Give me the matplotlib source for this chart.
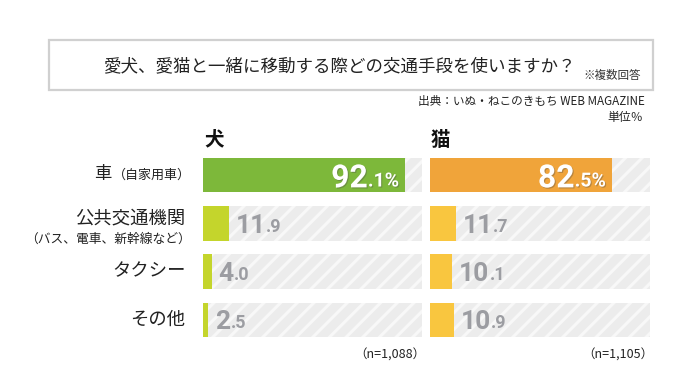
import matplotlib
matplotlib.use("Agg")
import matplotlib.pyplot as plt
import matplotlib.patheffects as pe
from matplotlib.patches import Rectangle

plt.rcParams['font.family'] = ['Noto Sans CJK JP', 'DejaVu Sans']
plt.rcParams['hatch.linewidth'] = 2.2

# ---- data ----
categories = ['車', '公共交通機関', 'タクシー', 'その他']
category_notes = ['（自家用車）', '（バス、電車、新幹線など）', '', '']
dog_values = [92.1, 11.9, 4.0, 2.5]
cat_values = [82.5, 11.7, 10.1, 10.9]
panel_titles = ['犬', '猫']
sample_sizes = ['（n=1,088）', '（n=1,105）']
title = '愛犬、愛猫と一緒に移動する際どの交通手段を使いますか？'
title_note = '※複数回答'
source = '出典：いぬ・ねこのきもち WEB MAGAZINE'
unit = '単位％'

dog_colors = ['#7db83a', '#c4d52c', '#c4d52c', '#c4d52c']
cat_colors = ['#f0a43a', '#f9c63f', '#f9c63f', '#f9c63f']

W, H = 700, 390
fig = plt.figure(figsize=(7.0, 3.9), dpi=100)
fig.patch.set_facecolor('white')

NUMFONT = ['Liberation Sans Narrow', 'Roboto', 'DejaVu Sans']
GRAY = '#9c9da2'


def fx(px):
    return px / W


def fy(py):
    return 1 - py / H


# title box
fig.patches.append(Rectangle((fx(49), fy(90)), fx(653) - fx(49), fy(40) - fy(90),
                             transform=fig.transFigure, fill=False,
                             edgecolor='#d0d0d0', linewidth=1.6))
fig.text(fx(103), fy(66), title, fontsize=12.6, va='center', ha='left', color='#222222')
fig.text(fx(641), fy(75), title_note, fontsize=8.3, va='center', ha='right', color='#333333')
fig.text(fx(645), fy(102), source, fontsize=8.4, va='center', ha='right', color='#222222')
fig.text(fx(643), fy(118), unit, fontsize=8.6, va='center', ha='right', color='#222222')

row_s = 48.3
top_px = 175 - row_s / 2
bot_px = top_px + row_s * 4
panels = [(203, 422, dog_values, dog_colors), (430, 650, cat_values, cat_colors)]
axes = []
for i, (x0, x1, vals, cols) in enumerate(panels):
    ax = fig.add_axes([fx(x0), fy(bot_px), fx(x1) - fx(x0), fy(top_px) - fy(bot_px)])
    ax.set_xlim(0, 100)
    ax.set_ylim(3.5, -0.5)
    ax.axis('off')
    y = list(range(len(categories)))
    ax.barh(y, [100] * len(y), height=0.72, color='#ececec', edgecolor='#f8f8f8',
            hatch='//', linewidth=0)
    ax.barh(y, vals, height=0.72, color=cols, linewidth=0)
    big, small = 19, 13
    d = 0.23
    for j, v in enumerate(vals):
        ip, dp = f'{v:.1f}'.split('.')
        if j == 0:
            bigsz, smallsz = 23, 14
            t_small = ax.annotate('.' + dp + '%', xy=(v, j), xytext=(-4, -bigsz * 0.36),
                                  textcoords='offset points', ha='right', va='baseline',
                                  fontsize=smallsz, fontweight='bold', color='white',
                                  family=NUMFONT,
                                  path_effects=[pe.withSimplePatchShadow(offset=(0.8, -0.8), alpha=0.35)])
            ax.annotate(ip, xy=(0, 0), xycoords=t_small,
                        xytext=(0, -d * (bigsz - smallsz)), textcoords='offset points',
                        ha='right', va='bottom', fontsize=bigsz, fontweight='bold',
                        color='white', family=NUMFONT,
                        path_effects=[pe.withSimplePatchShadow(offset=(0.8, -0.8), alpha=0.35)])
        else:
            t_big = ax.annotate(ip, xy=(v, j), xytext=(5, -big * 0.36),
                                textcoords='offset points', ha='left', va='baseline',
                                fontsize=big, fontweight='bold', color=GRAY, family=NUMFONT)
            ax.annotate('.' + dp, xy=(1, 0), xycoords=t_big,
                        xytext=(0, d * (big - small)), textcoords='offset points',
                        ha='left', va='bottom', fontsize=small, fontweight='bold',
                        color=GRAY, family=NUMFONT)
    fig.text(fx(x0 + 1), fy(140), panel_titles[i], fontsize=14, fontweight='bold',
             va='center', ha='left', color='#111111')
    fig.text(fx(x1 + 3), fy(355), sample_sizes[i], fontsize=9, va='center', ha='right',
             color='#222222')
    axes.append(ax)

# category labels
ax = axes[0]
for j, (c, note) in enumerate(zip(categories, category_notes)):
    if j == 0:
        tn = ax.annotate(note, xy=(0, j), xycoords=('axes fraction', 'data'),
                         xytext=(-9, 0), textcoords='offset points',
                         ha='right', va='center', fontsize=9.4, color='#222222')
        ax.annotate(c, xy=(0, 0.5), xycoords=tn, xytext=(-1, 0.5),
                    textcoords='offset points', ha='right', va='center',
                    fontsize=12.5, color='#222222')
    elif note:
        ax.annotate(c, xy=(0, j), xycoords=('axes fraction', 'data'),
                    xytext=(-12.5, 3.5), textcoords='offset points',
                    ha='right', va='center', fontsize=13.2, color='#222222')
        ax.annotate(note, xy=(0, j), xycoords=('axes fraction', 'data'),
                    xytext=(-9, -11.5), textcoords='offset points',
                    ha='right', va='center', fontsize=9.2, color='#222222')
    else:
        ax.annotate(c, xy=(0, j), xycoords=('axes fraction', 'data'),
                    xytext=(-12.5, 0), textcoords='offset points',
                    ha='right', va='center', fontsize=13.2, color='#222222')

fig.savefig('out.png', dpi=100, facecolor='white')
